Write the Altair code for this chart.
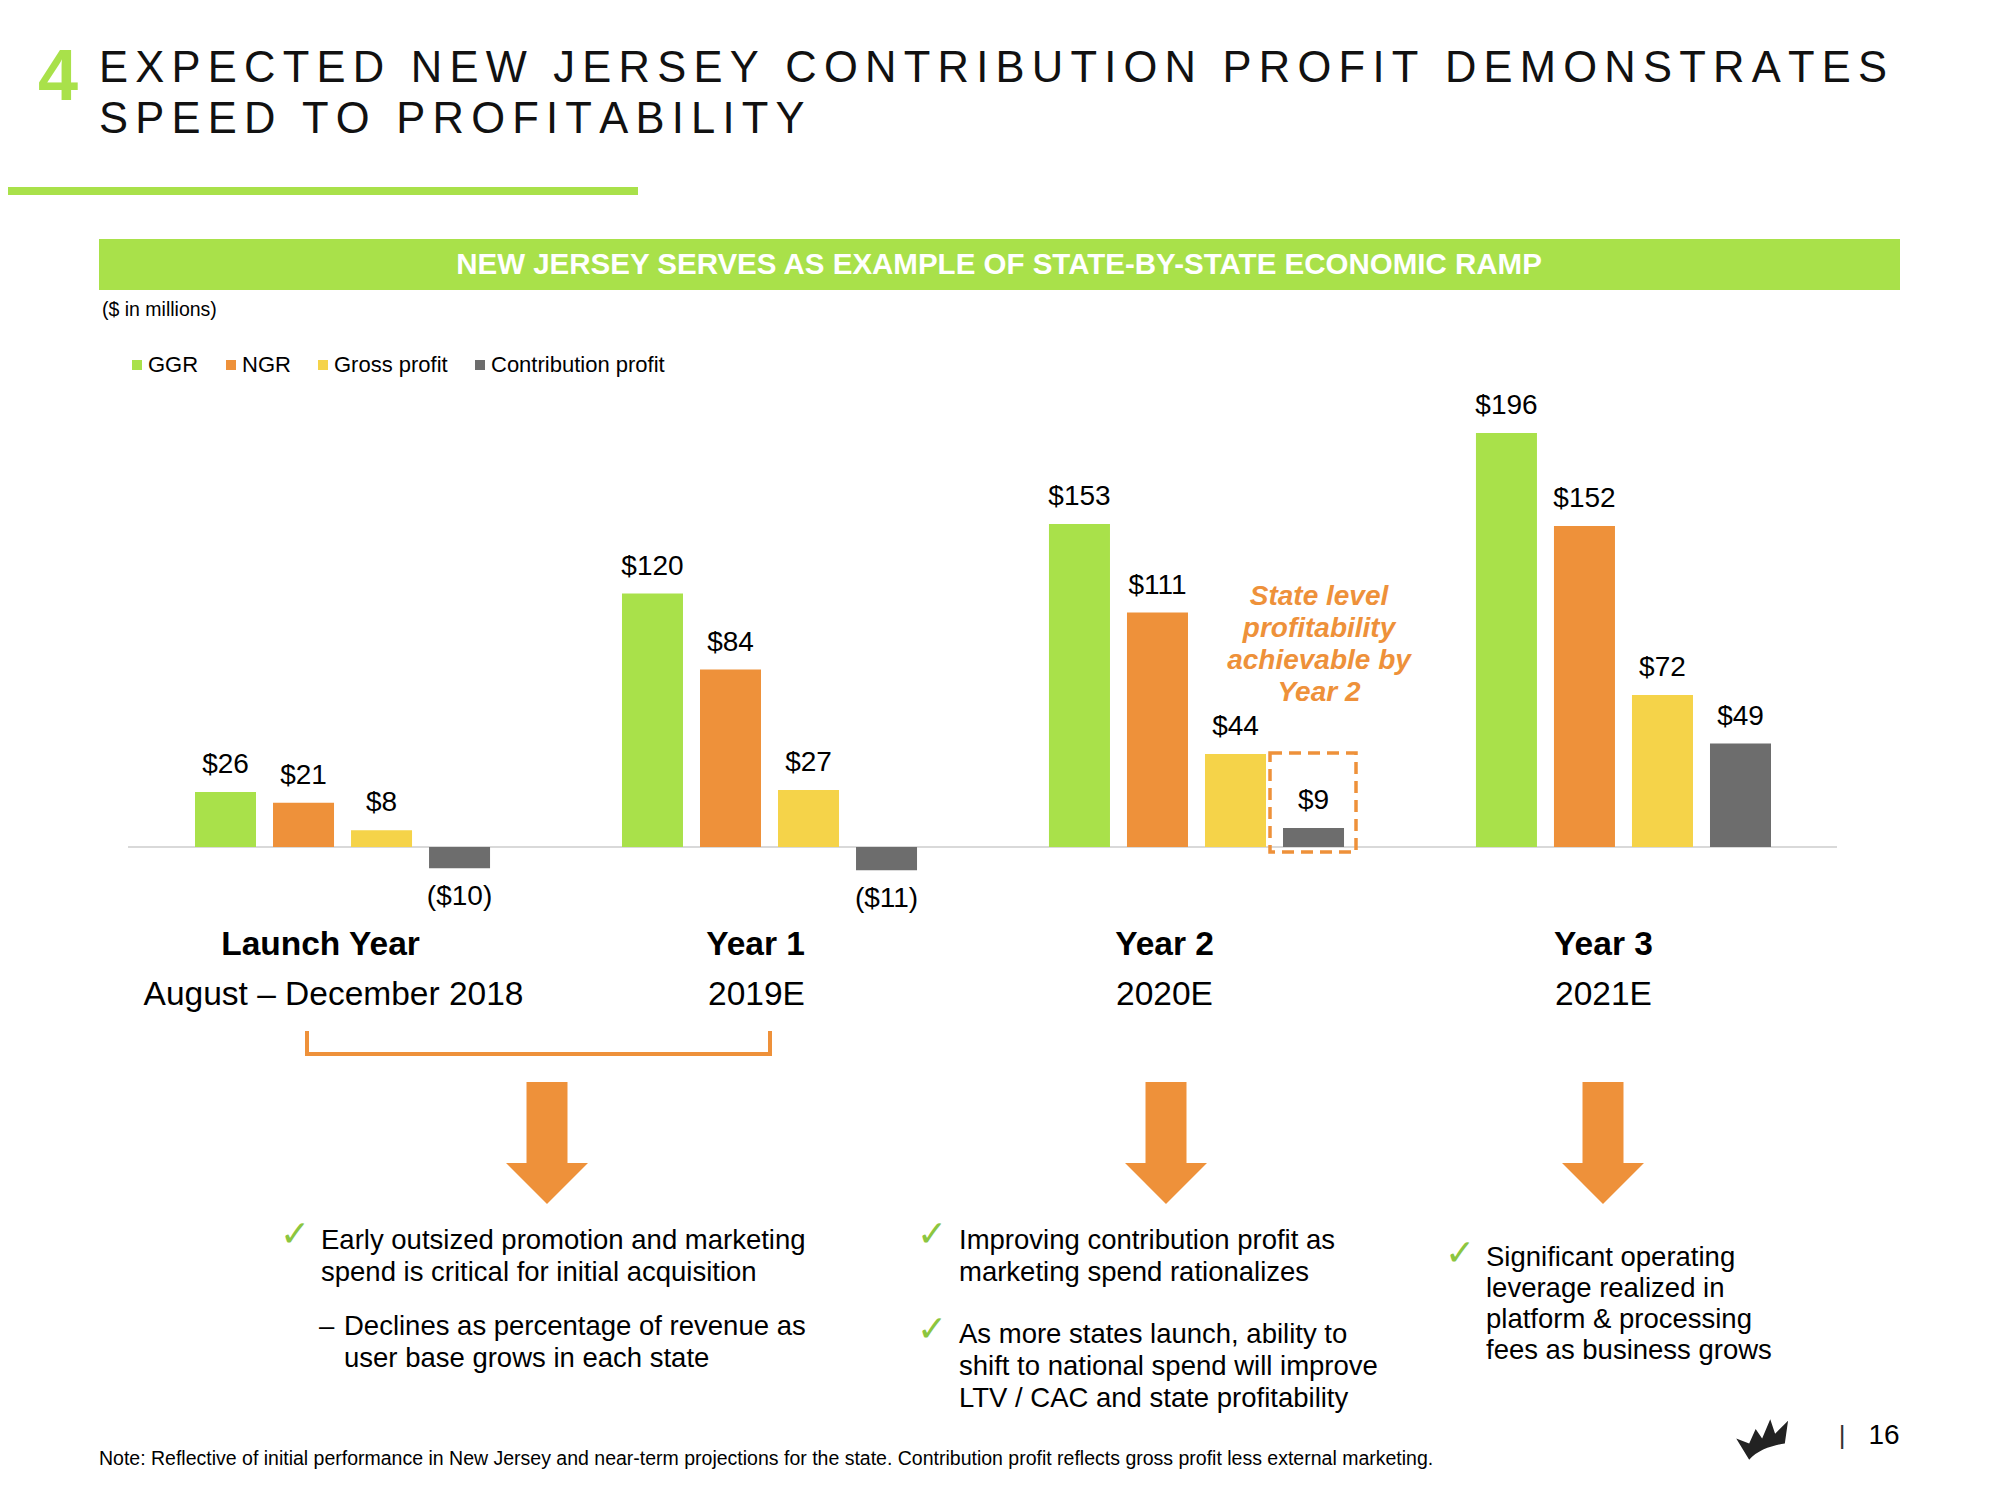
import altair as alt
import pandas as pd

# ---------------- data ----------------
groups = ["Launch Year", "Year 1", "Year 2", "Year 3"]
periods = ["August – December 2018", "2019E", "2020E", "2021E"]
series = ["GGR", "NGR", "Gross profit", "Contribution profit"]
ggr = [26, 120, 153, 196]
ngr = [21, 84, 111, 152]
gross_profit = [8, 27, 44, 72]
contribution_profit = [-10, -11, 9, 49]
colors = ["#A9E14A", "#EE913A", "#F5D349", "#6D6D6D"]

title_lines = ["EXPECTED NEW JERSEY CONTRIBUTION PROFIT DEMONSTRATES", "SPEED TO PROFITABILITY"]
banner_text = "NEW JERSEY SERVES AS EXAMPLE OF STATE-BY-STATE ECONOMIC RAMP"
unit_text = "($ in millions)"
callout_lines = ["State level", "profitability", "achievable by", "Year 2"]
bullet_left = ["Early outsized promotion and marketing", "spend is critical for initial acquisition"]
sub_left = ["Declines as percentage of revenue as", "user base grows in each state"]
bullet_mid1 = ["Improving contribution profit as", "marketing spend rationalizes"]
bullet_mid2 = ["As more states launch, ability to", "shift to national spend will improve", "LTV / CAC and state profitability"]
bullet_right = ["Significant operating", "leverage realized in", "platform & processing", "fees as business grows"]
note_text = ("Note: Reflective of initial performance in New Jersey and near-term projections for the state. "
             "Contribution profit reflects gross profit less external marketing.")
page_number = "16"

FONT = "Liberation Sans"
GREEN = "#A9E14A"
ORANGE = "#EE913A"
CHECK_GREEN = "#8CC63F"
TRACK = "\u2006"  # six-per-em space used as letter tracking for the spaced-out title


def tracked(s):
    return (TRACK + " " + TRACK).join(TRACK.join(word) for word in s.split(" "))


rows = []
for i, g in enumerate(groups):
    for s, vals in zip(series, [ggr, ngr, gross_profit, contribution_profit]):
        v = vals[i]
        rows.append({"group": g, "series": s, "value": v,
                     "label": f"${v}" if v >= 0 else f"(${-v})"})
df = pd.DataFrame(rows)
df_groups = pd.DataFrame({"group": groups, "period": periods})
one = pd.DataFrame({"k": [0]})

# ---------------- scales ----------------
xscale = alt.Scale(domain=groups, range=[187, 1763], paddingInner=0.309, paddingOuter=0)
xoffscale = alt.Scale(domain=series, paddingInner=0.218, paddingOuter=0)
yscale = alt.Scale(domain=[-30, 250], range=[902.4, 311], nice=False)

X = alt.X("group:N", scale=xscale, axis=None, sort=groups)
XO = alt.XOffset("series:N", scale=xoffscale, sort=series)
Y = alt.Y("value:Q", scale=yscale, axis=None, stack=None)

# horizontal nudges (px) of the category captions relative to each group centre
title_nudge = [-22, -14, -32, -20]
period_nudge = [-9, -13, -32, -20]


def text_layer(txt, x, y, size, align="left", weight="normal", color="#000000",
               style="normal", lh=None, baseline="middle"):
    kw = dict(align=align, baseline=baseline, fontSize=size, fontWeight=weight,
              color=color, fontStyle=style, font=FONT)
    if lh:
        kw["lineHeight"] = lh
    return alt.Chart(one).mark_text(**kw).encode(
        x=alt.value(x), y=alt.value(y), text=alt.value(txt))


def rect_layer(x, x2, y, y2, fill):
    return alt.Chart(one).mark_rect(fill=fill).encode(
        x=alt.value(x), x2=alt.value(x2), y=alt.value(y), y2=alt.value(y2))


layers = []

# title block
layers.append(text_layer("4", 30, 92, 72, weight="bold", color=GREEN, baseline="alphabetic"))
layers.append(text_layer(tracked(title_lines[0]), 91, 74, 43.5, color="#111111", baseline="alphabetic"))
layers.append(text_layer(tracked(title_lines[1]), 91, 125, 43.5, color="#111111", baseline="alphabetic"))
layers.append(rect_layer(0, 630, 179, 187, GREEN))

# banner
layers.append(rect_layer(91, 1892, 231, 282, GREEN))
layers.append(text_layer(banner_text, 991, 257, 29.5, align="center", weight="bold", color="#FFFFFF"))
layers.append(text_layer(unit_text, 94, 302, 19.5))

# baseline rule
layers.append(alt.Chart(one).mark_rule(color="#D9D9D9", strokeWidth=2).encode(
    x=alt.value(120), x2=alt.value(1829), y=alt.value(839)))

# bars
bars = alt.Chart(df).mark_bar().encode(
    x=X, xOffset=XO, y=Y, y2=alt.datum(0),
    color=alt.Color("series:N", sort=series,
                    scale=alt.Scale(domain=series, range=colors),
                    legend=alt.Legend(orient="none", legendX=118, legendY=346,
                                      direction="horizontal", title=None,
                                      symbolType="square", symbolSize=100,
                                      symbolStrokeWidth=0, symbolOpacity=1,
                                      labelFontSize=22, labelFont=FONT, labelLimit=500,
                                      labelColor="#000000", columnPadding=21,
                                      labelOffset=0, padding=0)))
layers.append(bars)

pos_labels = alt.Chart(df).transform_filter("datum.value >= 0").mark_text(
    dy=-27, baseline="middle", fontSize=28, font=FONT, color="#000000").encode(
    x=X, xOffset=XO, y=Y, text="label:N")
neg_labels = alt.Chart(df).transform_filter("datum.value < 0").mark_text(
    dy=29, baseline="middle", fontSize=28, font=FONT, color="#000000").encode(
    x=X, xOffset=XO, y=Y, text="label:N")
layers += [pos_labels, neg_labels]

# dashed highlight box around Year 2 contribution profit
layers.append(alt.Chart(one).mark_rect(fill=None, fillOpacity=0, stroke=ORANGE, strokeWidth=3.5,
                                       strokeDash=[12, 7]).encode(
    x=alt.value(1262), x2=alt.value(1348), y=alt.value(745), y2=alt.value(844)))

# callout (y = centre of first line)
layers.append(text_layer(callout_lines, 1311, 589, 28, align="center", weight="bold",
                         style="italic", color=ORANGE, lh=32))

# category labels
for g, tn, pn in zip(groups, title_nudge, period_nudge):
    sub = alt.Chart(df_groups).transform_filter(alt.datum.group == g)
    layers.append(sub.mark_text(dx=tn, fontSize=33.5, fontWeight="bold", font=FONT,
                                color="#000000", baseline="middle").encode(
        x=X, y=alt.value(937), text="group:N"))
    layers.append(sub.mark_text(dx=pn, fontSize=33.5, font=FONT,
                                color="#000000", baseline="middle").encode(
        x=X, y=alt.value(987), text="period:N"))

# bracket
for (x1, x2, y1, y2) in [(299, 299, 1025, 1046), (299, 762, 1046, 1046), (762, 762, 1025, 1046)]:
    layers.append(alt.Chart(one).mark_rule(color=ORANGE, strokeWidth=4, strokeCap="square").encode(
        x=alt.value(x1), x2=alt.value(x2), y=alt.value(y1), y2=alt.value(y2)))

# arrows
arrow_path = "M-0.336,-1 L0.336,-1 L0.336,0.328 L0.672,0.328 L0,1 L-0.672,0.328 L-0.336,0.328 Z"
for ax in [539, 1158, 1595]:
    layers.append(alt.Chart(one).mark_point(shape=arrow_path, filled=True, size=14884,
                                            color=ORANGE, opacity=1, strokeWidth=0).encode(
        x=alt.value(ax), y=alt.value(1135)))

# bullets (y = centre of first line)
CHECK = "✓"
layers.append(text_layer(CHECK, 287, 1227, 36, align="center", color=CHECK_GREEN))
layers.append(text_layer(bullet_left, 313, 1233, 27.5, lh=32))
layers.append(text_layer("–", 311, 1319, 27.5))
layers.append(text_layer(sub_left, 336, 1319, 27.5, lh=32))

layers.append(text_layer(CHECK, 924, 1227, 36, align="center", color=CHECK_GREEN))
layers.append(text_layer(bullet_mid1, 951, 1233, 27.5, lh=32))
layers.append(text_layer(CHECK, 924, 1322, 36, align="center", color=CHECK_GREEN))
layers.append(text_layer(bullet_mid2, 951, 1327, 27.5, lh=32))

layers.append(text_layer(CHECK, 1452, 1246, 36, align="center", color=CHECK_GREEN))
layers.append(text_layer(bullet_right, 1478, 1250, 27.5, lh=31))

# footer
layers.append(text_layer(note_text, 91, 1451, 19.5))
crown_path = ("M-0.95,0.05 L-0.55,0.2 L-0.35,-0.25 L-0.15,0.05 L0.1,-0.55 L0.25,-0.1 "
              "L0.65,-0.5 L0.55,0.2 C0.2,0.25 -0.3,0.4 -0.55,0.7 Z")
layers.append(alt.Chart(one).mark_point(shape=crown_path, filled=True, size=4200,
                                        color="#222222", opacity=1).encode(
    x=alt.value(1759), y=alt.value(1429)))
layers.append(text_layer("|", 1834, 1428, 26, align="center", color="#333333"))
layers.append(text_layer(page_number, 1876, 1428, 28, align="center"))

chart = alt.layer(*layers).properties(
    width=1984, height=1484, padding=0,
    autosize=alt.AutoSizeParams(type="none"),
    background="#FFFFFF",
).configure_view(strokeWidth=0)

chart.save("out.html", embed_options={"renderer": "svg", "actions": False})
